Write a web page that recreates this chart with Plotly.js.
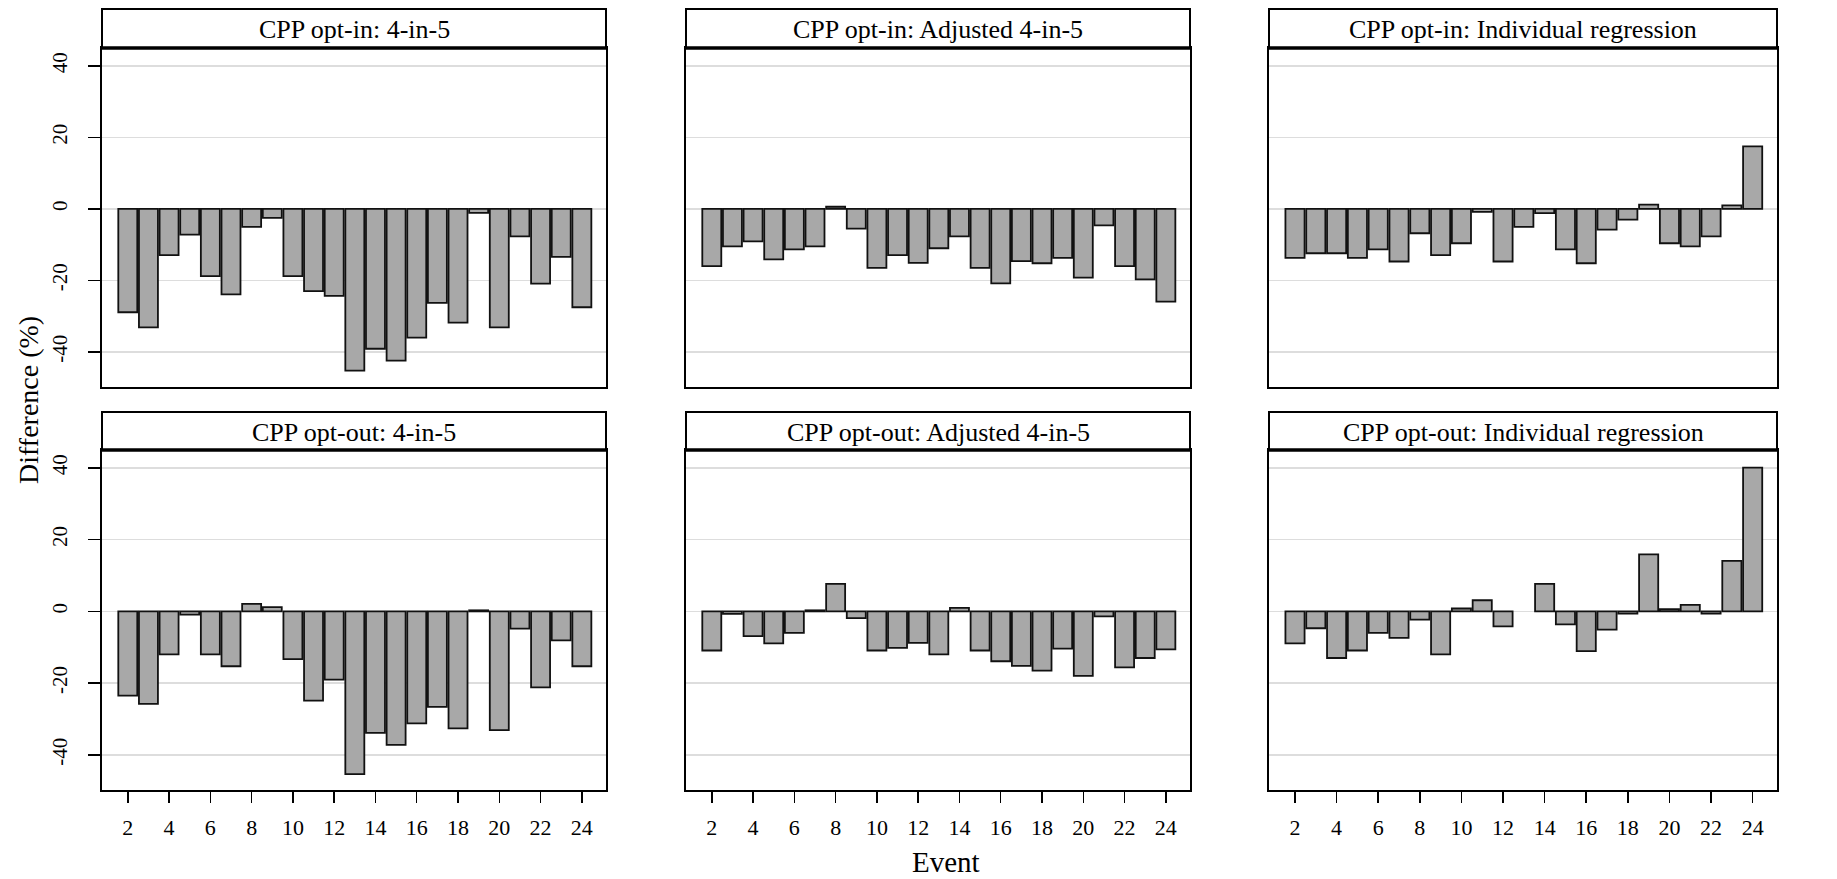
<!DOCTYPE html>
<html>
<head>
<meta charset="utf-8">
<script src="https://cdn.plot.ly/plotly-3.0.1.min.js"></script>
<style>
  html, body { margin: 0; padding: 0; background: #ffffff; }
  #chart { width: 1837px; height: 879px; }
</style>
</head>
<body>
<div id="chart"></div>
<script>
// ---- Data ----
const events = [2,3,4,5,6,7,8,9,10,11,12,13,14,15,16,17,18,19,20,21,22,23,24];

const optInFourInFive = [-28.9,-33.1,-12.9,-7.2,-18.8,-23.9,-5.0,-2.5,-18.8,-23.0,-24.3,-45.2,-39.1,-42.4,-36.0,-26.3,-31.8,-1.1,-33.1,-7.7,-20.9,-13.4,-27.5];
const optInAdjusted   = [-16.0,-10.5,-9.1,-14.1,-11.3,-10.5,0.6,-5.5,-16.5,-12.9,-15.1,-11.0,-7.7,-16.5,-20.8,-14.6,-15.2,-13.7,-19.2,-4.6,-16.0,-19.7,-25.9];
const optInIndividual = [-13.7,-12.4,-12.4,-13.7,-11.3,-14.7,-6.8,-12.9,-9.6,-0.8,-14.7,-5.0,-1.2,-11.3,-15.2,-5.8,-3.0,1.2,-9.6,-10.5,-7.7,1.0,17.5];

const optOutFourInFive = [-23.5,-25.8,-12.0,-0.9,-12.0,-15.3,2.1,1.2,-13.3,-24.9,-19.0,-45.4,-33.9,-37.2,-31.2,-26.6,-32.6,0.3,-33.1,-4.8,-21.2,-8.1,-15.3];
const optOutAdjusted   = [-10.9,-0.7,-6.9,-8.9,-6.0,0.3,7.7,-1.9,-10.9,-10.2,-8.8,-12.0,1.0,-10.9,-13.9,-15.2,-16.5,-10.4,-18.0,-1.4,-15.6,-13.0,-10.6];
const optOutIndividual = [-8.9,-4.7,-13.0,-10.9,-6.0,-7.4,-2.3,-12.0,0.8,3.1,-4.2,null,7.7,-3.6,-11.1,-5.1,-0.6,15.9,0.6,1.8,-0.6,14.1,40.1];

const panelTitles = [
  "CPP opt-in: 4-in-5",
  "CPP opt-in: Adjusted 4-in-5",
  "CPP opt-in: Individual regression",
  "CPP opt-out: 4-in-5",
  "CPP opt-out: Adjusted 4-in-5",
  "CPP opt-out: Individual regression"
];
const panelSeries = [optInFourInFive, optInAdjusted, optInIndividual, optOutFourInFive, optOutAdjusted, optOutIndividual];

const xTickVals = [2,4,6,8,10,12,14,16,18,20,22,24];
const yTickVals = [-40,-20,0,20,40];
const yTickText = ["-40","-20","0","20","40"];
const xTitle = "Event";
const yTitle = "Difference (%)";

// ---- Layout geometry (pixels) ----
const W = 1837, H = 879;
const colPx = [[102,606],[686,1190],[1269,1777]];
const rowPx = [{strip:9, top:48, bottom:387},{strip:412, top:450, bottom:790}];
const px2x = p => p / W;
const px2y = p => 1 - p / H;

const FONT = '"Liberation Serif", "Times New Roman", Times, serif';

const traces = [];
const layout = {
  width: W, height: H,
  margin: {l:0, r:0, t:0, b:0},
  paper_bgcolor: '#ffffff',
  plot_bgcolor: '#ffffff',
  showlegend: false,
  bargap: 0,
  font: {family: FONT, color: '#000000', size: 22},
  shapes: [],
  annotations: []
};

for (let i = 0; i < 6; i++) {
  const r = Math.floor(i / 3), c = i % 3;
  const n = i + 1;
  const xa = n === 1 ? 'x' : 'x' + n;
  const ya = n === 1 ? 'y' : 'y' + n;
  traces.push({
    type: 'bar',
    x: events,
    y: panelSeries[i],
    xaxis: xa, yaxis: ya,
    width: 0.92,
    marker: {color: '#a8a8a8', line: {color: '#111111', width: 1.8}},
    hoverinfo: 'x+y'
  });
  const bottomRow = r === 1;
  const leftCol = c === 0;
  layout['xaxis' + (n === 1 ? '' : n)] = {
    domain: [px2x(colPx[c][0]), px2x(colPx[c][1])],
    anchor: ya,
    range: [0.75, 25.17],
    tickmode: 'array',
    tickvals: xTickVals,
    ticktext: xTickVals.map(String),
    showticklabels: bottomRow,
    ticks: bottomRow ? 'outside' : '',
    ticklen: 11, tickwidth: 1.5, tickcolor: '#000000',
    ticklabelstandoff: 6,
    tickfont: {family: FONT, size: 22, color: '#000000'},
    showgrid: false, zeroline: false,
    showline: true, linecolor: '#000000', linewidth: 2, mirror: true,
    fixedrange: true
  };
  layout['yaxis' + (n === 1 ? '' : n)] = {
    domain: [px2y(rowPx[r].bottom), px2y(rowPx[r].top)],
    anchor: xa,
    range: [-49.8, 45],
    tickmode: 'array',
    tickvals: yTickVals,
    ticktext: yTickText,
    showticklabels: leftCol,
    tickangle: -90,
    ticks: leftCol ? 'outside' : '',
    ticklen: 12, tickwidth: 1.5, tickcolor: '#000000',
    ticklabelstandoff: 13,
    tickfont: {family: FONT, size: 21, color: '#000000'},
    showgrid: true, gridcolor: '#dddddd', gridwidth: 1.5,
    zeroline: false,
    showline: true, linecolor: '#000000', linewidth: 2, mirror: true,
    fixedrange: true
  };
  // strip (panel title box)
  layout.shapes.push({
    type: 'rect', xref: 'paper', yref: 'paper',
    x0: px2x(colPx[c][0]), x1: px2x(colPx[c][1]),
    y0: px2y(rowPx[r].top), y1: px2y(rowPx[r].strip),
    fillcolor: '#ffffff', line: {color: '#000000', width: 2}, layer: 'above'
  });
  layout.shapes.push({
    type: 'line', xref: 'paper', yref: 'paper',
    x0: px2x(colPx[c][0]), x1: px2x(colPx[c][1]),
    y0: px2y(rowPx[r].top), y1: px2y(rowPx[r].top),
    line: {color: '#000000', width: 3.5}, layer: 'above'
  });
  layout.annotations.push({
    text: panelTitles[i], xref: 'paper', yref: 'paper',
    x: px2x((colPx[c][0] + colPx[c][1]) / 2),
    y: px2y((rowPx[r].strip + rowPx[r].top) / 2 + 1),
    xanchor: 'center', yanchor: 'middle', showarrow: false,
    font: {family: FONT, size: 26, color: '#000000'}
  });
}

layout.annotations.push({
  text: xTitle, xref: 'paper', yref: 'paper',
  x: px2x(946), y: px2y(862), xanchor: 'center', yanchor: 'middle',
  showarrow: false, font: {family: FONT, size: 29, color: '#000000'}
});
layout.annotations.push({
  text: yTitle, xref: 'paper', yref: 'paper',
  x: px2x(28), y: px2y(400), xanchor: 'center', yanchor: 'middle',
  textangle: -90, showarrow: false, font: {family: FONT, size: 28, color: '#000000'}
});

Plotly.newPlot('chart', traces, layout, {displayModeBar: false, staticPlot: true});
</script>
</body>
</html>
